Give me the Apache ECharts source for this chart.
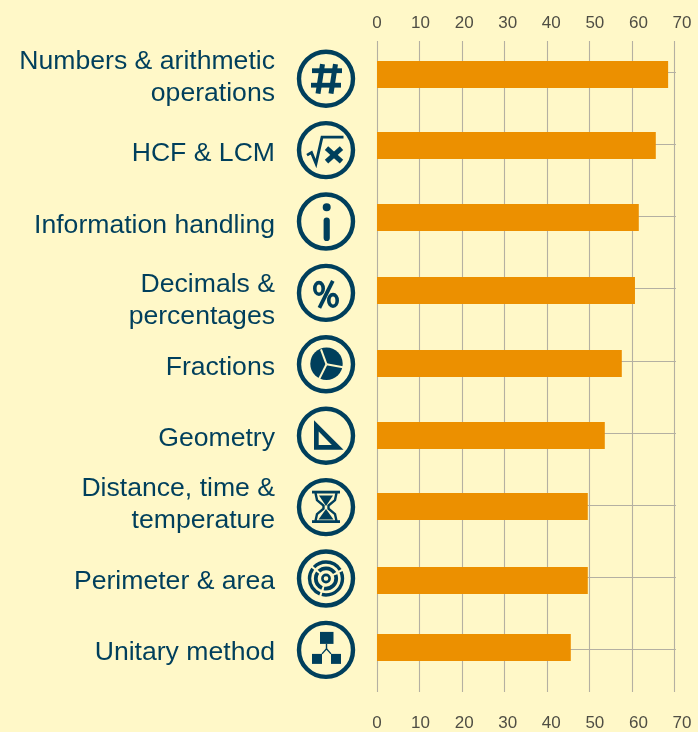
<!DOCTYPE html>
<html><head><meta charset="utf-8">
<style>html,body{margin:0;padding:0;background:#FFF8C8}#c{width:698px;height:732px}</style>
<script src="https://cdn.jsdelivr.net/npm/echarts@6/dist/echarts.min.js"></script>
</head><body><div id="c"></div>
<script>
const categories = ['Numbers & arithmetic\noperations','HCF & LCM','Information handling','Decimals &\npercentages','Fractions','Geometry','Distance, time &\ntemperature','Perimeter & area','Unitary method'];
const values = [68.5,65.6,61.6,60.7,57.6,53.6,49.6,49.6,45.6];
const tickValues = [0,10,20,30,40,50,60,70];

const INK='#003F5C', BG='#FFF8C8', ORANGE='#EC9000', GRID='#B4B0A2', TICK='#4F4E44';
const barNudge=[2.5,1.3,1.1,1.9,2.7,2.5,1.3,3.1,-2.1];
const labelNudge=[6,9,9,12,7,6,-1,4,3];
const ICON_X=326, ICON_Y0=78.7, ICON_STEP=71.4;

const L=(pts,w,o)=>({type:'polyline',shape:{points:pts},style:Object.assign({fill:'none',stroke:INK,lineWidth:w,lineJoin:'miter'},o||{})});
const F=(pts,c)=>({type:'polygon',shape:{points:pts},style:{fill:c||INK}});
const solid={fill:INK};
const ci=(r,w,o)=>({type:'circle',shape:{cx:0,cy:0,r:r},style:Object.assign({fill:'none',stroke:INK,lineWidth:w},o||{})});
const glyphs=[
 [L([[-14,-8],[16,-8]],4.8),L([[-15,6.5],[15,6.5]],4.8),L([[-3.5,-14.5],[-8,15]],5),L([[9.5,-14.5],[5,15]],5)],
 [L([[-19,5],[-14.5,2.5],[-10,13.5],[-4,-13],[17.5,-13]],2.8),L([[0.5,-2],[15.5,11.5]],5),L([[15.5,-2],[0.5,11.5]],5)],
 [{type:'circle',shape:{cx:0.7,cy:-14.3,r:4},style:solid},L([[0.7,-1],[0.7,16.5]],6.2,{lineCap:'round'})],
 [L([[6.8,-12],[-6.6,15]],3.8),{type:'ellipse',shape:{cx:-7,cy:-4.5,rx:4.2,ry:5.8},style:{fill:'none',stroke:INK,lineWidth:3.6}},{type:'ellipse',shape:{cx:7,cy:7.5,rx:4.2,ry:5.8},style:{fill:'none',stroke:INK,lineWidth:3.6}}],
 [{type:'circle',shape:{cx:0.5,cy:-0.5,r:16.2},style:solid},L([[0.5,0],[-5,-15]],2,{stroke:BG}),L([[0.5,0],[17,3]],2,{stroke:BG}),L([[0.5,0],[-7,15]],2,{stroke:BG})],
 [F([[-12,-15.5],[17.5,14],[-12,14]]),F([[-7.3,-4.3],[5.8,9.3],[-7.3,9.3]],BG)],
 [L([[-14,-15],[14,-15]],2.8),L([[-14,14.5],[14,14.5]],2.8),
  L([[-10.5,-14],[-9,-7],[-2.5,-1.5],[-2.5,1.5],[-9,7],[-10.5,14]],2.4),L([[10.5,-14],[9,-7],[2.5,-1.5],[2.5,1.5],[9,7],[10.5,14]],2.4),
  F([[-7,-11.5],[7,-11.5],[0,-1]]),F([[0,2],[7.5,12.5],[-7.5,12.5]])],
 [ci(16.5,3.4,{lineDash:[30,2]}),ci(10.2,3.8,{lineDash:[18,2]}),ci(3.6,2.6)],
 [{type:'rect',shape:{x:-6,y:-18,width:13.5,height:12},style:solid},{type:'rect',shape:{x:-14,y:4,width:10,height:10},style:solid},{type:'rect',shape:{x:5,y:4,width:10,height:10},style:solid},L([[0.5,-6],[0.5,-1]],1.4),L([[-4,4],[0.5,-1],[5,4]],1.4)]
];
const icons=glyphs.map((g,i)=>({type:'group',x:ICON_X,y:ICON_Y0+ICON_STEP*i,silent:true,
  children:[{type:'circle',shape:{cx:0,cy:0,r:27},style:{fill:'none',stroke:INK,lineWidth:4.4}}].concat(g)}));

const richText={};
labelNudge.forEach((d,i)=>{richText['n'+i]={padding:d>=0?[2*d,0,0,0]:[0,0,-2*d,0]};});
const labelFormatter=(value,i)=>value.split('\n').map(line=>'{n'+i+'|'+line+'}').join('\n');

const chart=echarts.init(document.getElementById('c'),null,{renderer:'canvas'});
const PX=4.25;
chart.setOption({
 animation:false,
 backgroundColor:BG,
 grid:[
  {left:377,top:41,width:70*PX,height:651},
  {left:377,top:72,width:70.33*PX,height:577.6},
  {left:377,top:34,right:16,bottom:14}
 ],
 xAxis:[
  {gridIndex:0,type:'value',min:0,max:70,interval:10,axisLine:{show:false},axisTick:{show:false},axisLabel:{show:false},splitLine:{show:true,lineStyle:{color:GRID,width:1.1}}},
  {gridIndex:1,type:'value',min:0,max:70.33,show:false},
  {gridIndex:2,type:'value',position:'top',min:0,max:70,interval:10,axisLine:{show:false},axisTick:{show:false},splitLine:{show:false},axisLabel:{margin:2,fontFamily:'Liberation Sans',fontSize:17,color:TICK}},
  {gridIndex:2,type:'value',position:'bottom',min:0,max:70,interval:10,axisLine:{show:false},axisTick:{show:false},splitLine:{show:false},axisLabel:{margin:3,fontFamily:'Liberation Sans',fontSize:17,color:TICK}}
 ],
 yAxis:[
  {gridIndex:0,type:'value',show:false},
  {gridIndex:1,type:'category',inverse:true,boundaryGap:false,
   data:categories,
   axisLine:{show:false},axisTick:{show:false},
   splitLine:{show:true,interval:0,lineStyle:{color:GRID,width:1.1}},
   axisLabel:{interval:0,margin:102,align:'right',verticalAlign:'middle',fontFamily:'Liberation Sans',fontSize:26.6,lineHeight:32,color:INK,formatter:labelFormatter,rich:richText}},
  {gridIndex:2,type:'value',show:false}
 ],
 series:[{
  type:'custom',xAxisIndex:1,yAxisIndex:1,coordinateSystem:'cartesian2d',clip:false,
  data:values.map((v,i)=>[v,i]),encode:{x:0,y:1},
  renderItem(params,api){
   const a=api.coord([0,api.value(1)]),b=api.coord([api.value(0),api.value(1)]);
   const n=barNudge[params.dataIndex];
   return {type:'rect',shape:{x:a[0],y:a[1]+n-13.5,width:b[0]-a[0],height:27},style:{fill:ORANGE}};
  }
 }],
 graphic:icons
});
</script></body></html>
